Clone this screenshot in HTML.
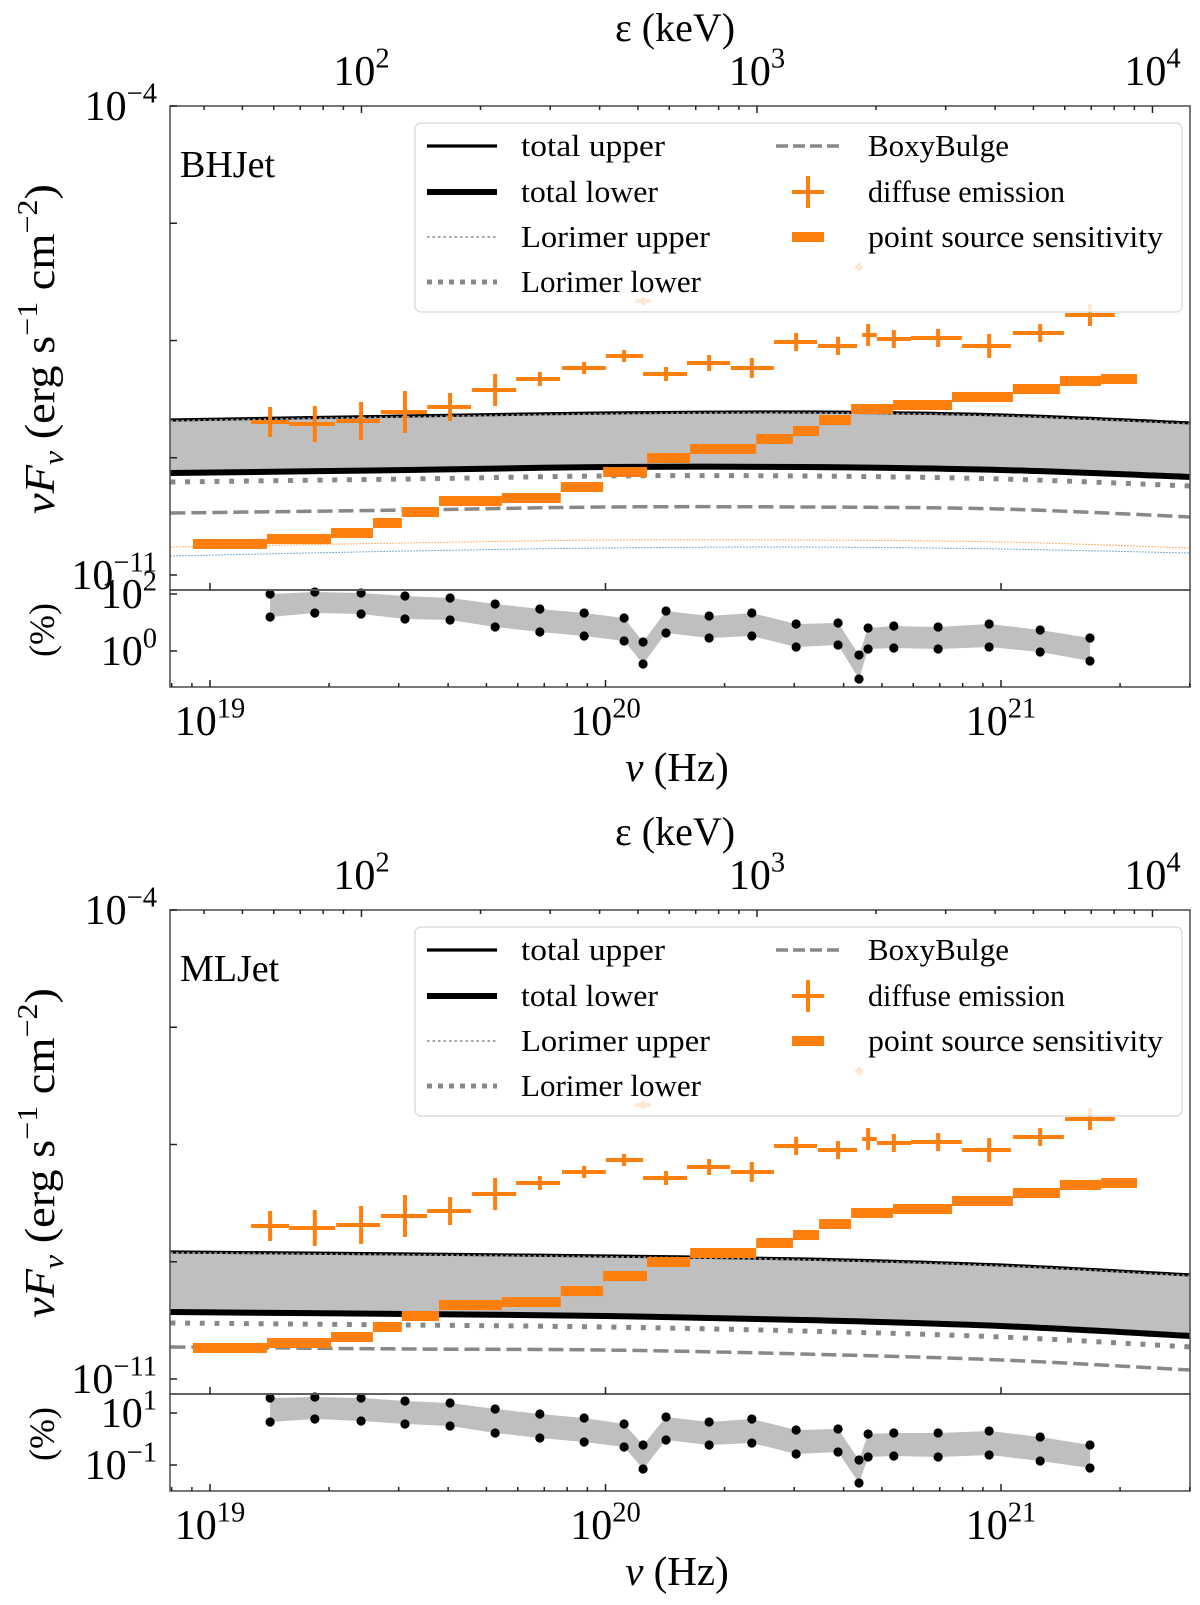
<!DOCTYPE html>
<html><head><meta charset="utf-8">
<style>
html,body{margin:0;padding:0;background:#fff;}
svg{display:block;font-family:"Liberation Serif","DejaVu Serif",serif;}
</style></head>
<body>
<svg id="chart" width="1200" height="1605" viewBox="0 0 1200 1605" xmlns="http://www.w3.org/2000/svg">
<rect x="0" y="0" width="1200" height="1605" fill="#fff"/>
</svg>
<script>
// ---- data (log10 values) ----
const curveNu = [18.9, 19.5, 20.0, 20.5, 21.0, 21.48];
const bhUpper = [-8.687, -8.627, -8.582, -8.567, -8.612, -8.731];
const bhLower = [-9.478, -9.433, -9.388, -9.388, -9.433, -9.537];
const bhLorUpper = [-8.70, -8.64, -8.595, -8.58, -8.625, -8.745];
const bhLorLower = [-9.612, -9.567, -9.522, -9.522, -9.567, -9.672];
const bhBoxy = [-10.075, -10.030, -9.985, -9.985, -10.015, -10.134];
const bhOrangeDot = [-10.582, -10.522, -10.478, -10.478, -10.507, -10.597];
const bhBlueDot = [-10.716, -10.642, -10.597, -10.582, -10.612, -10.672];
const mlUpper = [-9.104, -9.134, -9.164, -9.209, -9.299, -9.448];
const mlLower = [-10.0, -10.030, -10.060, -10.119, -10.209, -10.358];
const mlLorUpper = [-9.116, -9.146, -9.176, -9.221, -9.311, -9.460];
const mlLorLower = [-10.164, -10.194, -10.224, -10.284, -10.373, -10.522];
const mlBoxy = [-10.522, -10.552, -10.567, -10.627, -10.716, -10.866];

const diffNu = [19.152,19.265,19.382,19.493,19.607,19.721,19.834,19.946,20.047,20.095,20.153,20.262,20.370,20.482,20.588,20.641,20.664,20.729,20.841,20.970,21.099,21.225];
const diffLo = [19.104,19.200,19.319,19.432,19.549,19.662,19.774,19.890,20.001,20.075,20.095,20.206,20.317,20.426,20.537,20.631,20.649,20.686,20.772,20.901,21.030,21.162];
const diffHi = [19.200,19.316,19.430,19.549,19.660,19.774,19.885,20.001,20.095,20.115,20.206,20.315,20.426,20.535,20.636,20.651,20.686,20.772,20.901,21.025,21.159,21.288];
const diffFlux = [-8.716,-8.746,-8.701,-8.567,-8.493,-8.239,-8.075,-7.910,-7.731,-6.910,-8.000,-7.836,-7.910,-7.522,-7.582,-6.403,-7.418,-7.478,-7.463,-7.582,-7.388,-7.119];
const diffErr = [0.224,0.269,0.284,0.313,0.209,0.239,0.104,0.09,0.09,0.06,0.104,0.119,0.149,0.134,0.134,0.06,0.164,0.134,0.134,0.179,0.134,0.164];

const psEdges = [18.957,19.144,19.306,19.412,19.485,19.579,19.738,19.887,19.994,20.105,20.214,20.381,20.474,20.540,20.621,20.727,20.876,21.030,21.149,21.253,21.344];
const psFlux = [-10.537,-10.463,-10.373,-10.224,-10.060,-9.896,-9.851,-9.687,-9.463,-9.254,-9.119,-8.970,-8.851,-8.687,-8.522,-8.463,-8.343,-8.224,-8.104,-8.075];

const bhResUp = [2.0,2.070,2.035,1.930,1.860,1.649,1.474,1.333,1.158,0.316,1.404,1.228,1.333,0.947,0.982,-0.140,0.807,0.877,0.842,0.947,0.737,0.456];
const bhResLo = [1.193,1.333,1.298,1.123,1.088,0.842,0.667,0.526,0.351,-0.456,0.632,0.456,0.526,0.140,0.211,-0.982,0.070,0.105,0.070,0.140,-0.035,-0.351];
const mlResUp = [1.577,1.615,1.577,1.462,1.385,1.154,0.962,0.808,0.577,-0.231,0.846,0.654,0.769,0.346,0.385,-0.808,0.192,0.231,0.231,0.308,0.077,-0.231];
const mlResLo = [0.654,0.769,0.692,0.577,0.5,0.231,0.038,-0.115,-0.308,-1.154,-0.038,-0.231,-0.154,-0.577,-0.5,-1.692,-0.692,-0.654,-0.692,-0.615,-0.846,-1.115];

const xTickLabels = ['19','20','21'];
const eTickLabels = ['2','3','4'];
const mainYTicks = [-4,-5.75,-7.5,-9.25,-11];

// ---- axis geometry ----
const NS = 'http://www.w3.org/2000/svg';
const svg = document.getElementById('chart');
const X0 = 170, X1 = 1190;
const XMIN = 19 - 40/395.5, XMAX = 19 + 980/395.5;
const KEV = 17.383;
const TICK_FS = 42;
function xOf(l){ return X0 + (l - XMIN)/(XMAX - XMIN)*(X1 - X0); }
function mk(tag, attrs, parent){
  const e = document.createElementNS(NS, tag);
  for (const k in attrs) e.setAttribute(k, attrs[k]);
  (parent || svg).appendChild(e);
  return e;
}
function smooth(pts){
  let d = 'M' + pts[0][0].toFixed(2) + ',' + pts[0][1].toFixed(2);
  for (let i = 0; i < pts.length - 1; i++){
    const p0 = pts[Math.max(i-1,0)], p1 = pts[i], p2 = pts[i+1], p3 = pts[Math.min(i+2,pts.length-1)];
    const c1x = p1[0] + (p2[0]-p0[0])/6, c1y = p1[1] + (p2[1]-p0[1])/6;
    const c2x = p2[0] - (p3[0]-p1[0])/6, c2y = p2[1] - (p3[1]-p1[1])/6;
    d += ' C' + c1x.toFixed(2)+','+c1y.toFixed(2)+' '+c2x.toFixed(2)+','+c2y.toFixed(2)+' '+p2[0].toFixed(2)+','+p2[1].toFixed(2);
  }
  return d;
}
function pow10(parent, x, y, exp, anchor, size){
  const t = mk('text', {x:x, y:y, 'text-anchor':anchor, 'font-size':size, fill:'#000'}, parent);
  t.appendChild(document.createTextNode('10'));
  const s = mk('tspan', {dy: -size*0.42, 'font-size': size*0.68}, t);
  s.textContent = exp.replace('-', '\u2212');
  return t;
}

function drawPanel(off, P){
  const g = mk('g', {});
  
  
  const yM = l => off + 106 + (-4 - l)/7*469;
  const yR = l => off + 590 + (P.resMax - l)/(P.resMax - P.resMin)*97;

  const clipId = 'clip' + off;
  const cp = mk('clipPath', {id: clipId}, g);
  mk('rect', {x:X0, y:off+106, width:X1-X0, height:484}, cp);
  const plot = mk('g', {'clip-path':'url(#'+clipId+')'}, g);
  
  

  const pts = arr => curveNu.map((n,i) => [xOf(n), yM(arr[i])]);
  const up = pts(P.upper), lo = pts(P.lower);
  const bandD = smooth(up) + ' L' + smooth(lo.slice().reverse()).slice(1) + ' Z';
  const band = mk('path', {d: bandD, fill:'#bfbfbf', stroke:'none'}, plot);
  
  
  if (P.orangeDot){
    const od = mk('path', {d: smooth(pts(P.orangeDot)), fill:'none', stroke:'#ff7f0e', 'stroke-width':1, 'stroke-dasharray':'1.2,1.8'}, plot);
    
    
    const bd = mk('path', {d: smooth(pts(P.blueDot)), fill:'none', stroke:'#1f77b4', 'stroke-width':1, 'stroke-dasharray':'1.2,1.8'}, plot);
    
    
  }
  const bx = mk('path', {d: smooth(pts(P.boxy)), fill:'none', stroke:'#888', 'stroke-width':3.5, 'stroke-dasharray':'15,6'}, plot);
  
  
  const tl = mk('path', {d: smooth(lo), fill:'none', stroke:'#000', 'stroke-width':6}, plot);
  
  
  const tu = mk('path', {d: smooth(up), fill:'none', stroke:'#000', 'stroke-width':3.2}, plot);
  
  
  const lu = mk('path', {d: smooth(pts(P.lorUpper)), fill:'none', stroke:'#999', 'stroke-width':1.8, 'stroke-dasharray':'2.5,3'}, plot);
  
  
  const ll = mk('path', {d: smooth(pts(P.lorLower)), fill:'none', stroke:'#888', 'stroke-width':5, 'stroke-dasharray':'5,9.7'}, plot);
  
  

  for (let i = 0; i < psFlux.length; i++){
    const r = mk('rect', {x: xOf(psEdges[i]), y: yM(psFlux[i]) - 5, width: xOf(psEdges[i+1]) - xOf(psEdges[i]), height: 10, fill:'#ff7f0e'}, plot);
    
    
  }
  for (let i = 0; i < diffNu.length; i++){
    const cx = xOf(diffNu[i]), cy = yM(diffFlux[i]);
    const h = mk('line', {x1: xOf(diffLo[i]), x2: xOf(diffHi[i]), y1: cy, y2: cy, stroke:'#ff7f0e', 'stroke-width':4}, plot);
    
    
    const v = mk('line', {x1: cx, x2: cx, y1: yM(diffFlux[i] + diffErr[i]), y2: yM(diffFlux[i] - diffErr[i]), stroke:'#ff7f0e', 'stroke-width':4}, plot);
    
    
  }

  // legend
  const lg = mk('g', {}, g);
  
  
  mk('rect', {x:415, y:off+123, width:767, height:189, rx:6, fill:'#fff', 'fill-opacity':0.82, stroke:'#d6d6d6', 'stroke-width':1.2}, lg);
  const rows = [off+146, off+192, off+237, off+282];
  const items1 = [
    ['total upper', {stroke:'#000','stroke-width':3.2}, 144],
    ['total lower', {stroke:'#000','stroke-width':6}, 137],
    ['Lorimer upper', {stroke:'#999','stroke-width':1.8,'stroke-dasharray':'2.5,3'}, 189],
    ['Lorimer lower', {stroke:'#888','stroke-width':5,'stroke-dasharray':'5,6'}, 180]
  ];
  items1.forEach((it, i) => {
    const a = Object.assign({x1:427, x2:497, y1:rows[i], y2:rows[i]}, it[1]);
    const ln = mk('line', a, lg);
    
    
    const t = mk('text', {x:521, y:rows[i]+10, 'font-size':31, fill:'#000', textLength: it[2], lengthAdjust:'spacingAndGlyphs'}, lg);
    t.textContent = it[0];
    
    
  });
  const bxh = mk('line', {x1:776, x2:842, y1:rows[0], y2:rows[0], stroke:'#888', 'stroke-width':3.5, 'stroke-dasharray':'12,5'}, lg);
  
  
  const ch1 = mk('line', {x1:792, x2:824, y1:rows[1], y2:rows[1], stroke:'#ff7f0e', 'stroke-width':4}, lg);
  
  
  const ch2 = mk('line', {x1:808, x2:808, y1:rows[1]-16, y2:rows[1]+16, stroke:'#ff7f0e', 'stroke-width':4}, lg);
  
  
  const ch3 = mk('rect', {x:792, y:rows[2]-5, width:32, height:10, fill:'#ff7f0e'}, lg);
  
  
  [['BoxyBulge',141],['diffuse emission',197],['point source sensitivity',295]].forEach((s, i) => {
    const t = mk('text', {x:868, y:rows[i]+10, 'font-size':31, fill:'#000', textLength: s[1], lengthAdjust:'spacingAndGlyphs'}, lg);
    t.textContent = s[0];
    
    
  });

  const pl = mk('text', {x:180, y:off+177, 'font-size':38, fill:'#000'}, g);
  pl.textContent = P.label;
  
  

  // residual
  const rg = mk('g', {}, g);
  
  
  const rU = diffNu.map((n,i) => [xOf(n), yR(P.resUp[i])]);
  const rL = diffNu.map((n,i) => [xOf(n), yR(P.resLo[i])]);
  const poly = rU.concat(rL.slice().reverse()).map(p => p[0].toFixed(1)+','+p[1].toFixed(1)).join(' ');
  const rb = mk('polygon', {points: poly, fill:'#bfbfbf'}, rg);
  
  
  rU.concat(rL).forEach(p => {
    const c = mk('circle', {cx:p[0], cy:p[1], r:4.6, fill:'#000'}, rg);
    
    
  });

  const f1 = mk('rect', {x:X0, y:off+106, width:X1-X0, height:484, fill:'none', stroke:'#555', 'stroke-width':1.6}, g);
  
  
  const f2 = mk('rect', {x:X0, y:off+590, width:X1-X0, height:97, fill:'none', stroke:'#555', 'stroke-width':1.6}, g);
  
  

  const tg = mk('g', {stroke:'#222', 'stroke-width':1.5}, g);
  
  
  mainYTicks.forEach(v => { mk('line', {x1:X0, x2:X0+7, y1:yM(v), y2:yM(v)}, tg); });
  P.resTicks.forEach(v => { mk('line', {x1:X0, x2:X0+7, y1:yR(v), y2:yR(v)}, tg); });
  for (let d = 18; d <= 21; d++){
    for (let m = 1; m <= 9; m++){
      const l = d + Math.log10(m);
      if (l < XMIN || l > XMAX) continue;
      const x = xOf(l);
      const len = m === 1 ? 7 : 4;
      mk('line', {x1:x, x2:x, y1:off+687, y2:off+687-len}, tg);
      if (m === 1) mk('line', {x1:x, x2:x, y1:off+590, y2:off+583}, tg);
    }
  }
  for (let d = 1; d <= 4; d++){
    for (let m = 1; m <= 9; m++){
      const l = d + Math.log10(m) + KEV;
      if (l < XMIN || l > XMAX) continue;
      const x = xOf(l);
      mk('line', {x1:x, x2:x, y1:off+106, y2:off+106+(m === 1 ? 7 : 4)}, tg);
    }
  }

  const lbl = mk('g', {}, g);
  
  
  pow10(lbl, 157, off+120, '-4', 'end', TICK_FS);
  pow10(lbl, 157, off+589, '-11', 'end', TICK_FS);
  P.resTicks.forEach((v, i) => { pow10(lbl, 157, yR(v)+14, P.resTickLabels[i], 'end', TICK_FS); });
  xTickLabels.forEach(s => { pow10(lbl, xOf(+s), off+735, s, 'middle', TICK_FS); });
  eTickLabels.forEach(s => { pow10(lbl, xOf(+s + KEV), off+85, s, 'middle', TICK_FS); });

  const et = mk('text', {x:675, y:off+41, 'text-anchor':'middle', 'font-size':40, fill:'#000'}, g);
  et.textContent = '\u03b5 (keV)';
  
  
  const nt = mk('text', {x:677, y:off+781, 'text-anchor':'middle', 'font-size':41, fill:'#000'}, g);
  const n1 = mk('tspan', {'font-style':'italic'}, nt);
  n1.textContent = '\u03bd';
  const n2 = mk('tspan', {}, nt);
  n2.textContent = ' (Hz)';
  
  

  const yt = mk('text', {x:54, y:off+349, 'text-anchor':'middle', 'font-size':42, fill:'#000', textLength:330, lengthAdjust:'spacingAndGlyphs', transform:'rotate(-90 54 '+(off+349)+')'}, g);
  const a1 = mk('tspan', {'font-style':'italic'}, yt); a1.textContent = '\u03bdF';
  const a2 = mk('tspan', {'font-style':'italic', 'font-size':29, dy:9}, yt); a2.textContent = '\u03bd';
  const a3 = mk('tspan', {dy:-9}, yt); a3.textContent = ' (erg s';
  const a4 = mk('tspan', {'font-size':29, dy:-17}, yt); a4.textContent = '\u22121';
  const a5 = mk('tspan', {dy:17}, yt); a5.textContent = ' cm';
  const a6 = mk('tspan', {'font-size':29, dy:-17}, yt); a6.textContent = '\u22122';
  const a7 = mk('tspan', {dy:17}, yt); a7.textContent = ')';
  
  

  const pt = mk('text', {x:54, y:off+630, 'text-anchor':'middle', 'font-size':36, fill:'#000', transform:'rotate(-90 54 '+(off+630)+')'}, g);
  pt.textContent = '(%)';
  
  
}

drawPanel(0, {name:'bhjet', label:'BHJet', upper:bhUpper, lower:bhLower, lorUpper:bhLorUpper, lorLower:bhLorLower, boxy:bhBoxy, orangeDot:bhOrangeDot, blueDot:bhBlueDot, resUp:bhResUp, resLo:bhResLo, resMax:2.14, resMin:-1.263, resTicks:[2,0], resTickLabels:['2','0']});
drawPanel(804, {name:'mljet', label:'MLJet', upper:mlUpper, lower:mlLower, lorUpper:mlLorUpper, lorLower:mlLorLower, boxy:mlBoxy, orangeDot:null, blueDot:null, resUp:mlResUp, resLo:mlResLo, resMax:1.731, resMin:-2.0, resTicks:[1,-1], resTickLabels:['1','-1']});
</script>
</body></html>
